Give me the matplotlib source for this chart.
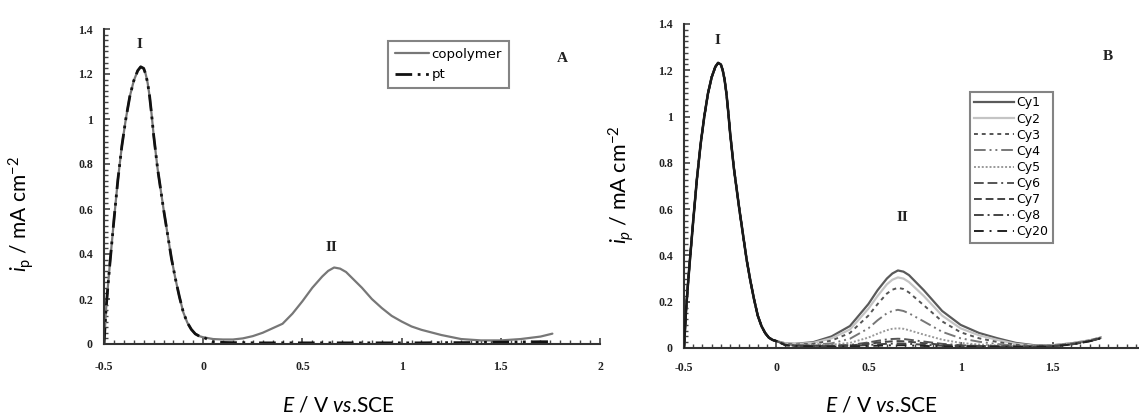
import matplotlib
matplotlib.use('Agg')
import matplotlib.pyplot as plt
from matplotlib.ticker import MultipleLocator, FuncFormatter

# ---------------- data ----------------
# peak I region, shared by all traces
E_peak = [-0.5, -0.49, -0.48, -0.47, -0.45, -0.43, -0.41, -0.39, -0.37, -0.35,
          -0.33, -0.315, -0.30, -0.29, -0.28, -0.27, -0.26, -0.25, -0.23, -0.21,
          -0.20, -0.18, -0.16, -0.14, -0.12, -0.10, -0.08, -0.06, -0.04, -0.02, 0.0]
I_peak = [0.0, 0.15, 0.26, 0.36, 0.55, 0.73, 0.88, 1.0, 1.10, 1.17,
          1.215, 1.232, 1.225, 1.20, 1.16, 1.10, 1.02, 0.93, 0.78, 0.66,
          0.60, 0.49, 0.38, 0.29, 0.21, 0.14, 0.095, 0.065, 0.045, 0.035, 0.03]

# panel A, beyond 0 V
E_A = [0.05, 0.1, 0.15, 0.2, 0.25, 0.3, 0.35, 0.4, 0.45, 0.5, 0.55, 0.6, 0.63,
       0.66, 0.69, 0.72, 0.76, 0.8, 0.85, 0.9, 0.95, 1.0, 1.05, 1.1, 1.2, 1.3,
       1.4, 1.5, 1.6, 1.7, 1.76]
copolymer = [0.022, 0.02, 0.02, 0.025, 0.035, 0.05, 0.07, 0.09, 0.135, 0.19,
             0.25, 0.30, 0.325, 0.34, 0.335, 0.32, 0.285, 0.25, 0.20, 0.16,
             0.125, 0.10, 0.078, 0.063, 0.04, 0.022, 0.016, 0.016, 0.022,
             0.033, 0.046]
pt = [0.01, 0.007, 0.006, 0.006, 0.005, 0.005, 0.005, 0.005, 0.005, 0.005,
      0.005, 0.005, 0.005, 0.005, 0.005, 0.005, 0.005, 0.005, 0.005, 0.005,
      0.005, 0.005, 0.005, 0.005, 0.006, 0.006, 0.007, 0.008, 0.009, 0.01, 0.01]

# panel B, beyond 0 V
E_B = [0.05, 0.1, 0.2, 0.3, 0.4, 0.5, 0.55, 0.6, 0.63, 0.66, 0.69, 0.72, 0.8,
       0.9, 1.0, 1.1, 1.2, 1.3, 1.4, 1.5, 1.6, 1.7, 1.76]
cy1 = [0.02, 0.018, 0.025, 0.05, 0.095, 0.19, 0.25, 0.30, 0.322, 0.335, 0.33,
       0.315, 0.25, 0.16, 0.10, 0.065, 0.042, 0.022, 0.012, 0.012, 0.02, 0.033, 0.045]
cy2 = [0.02, 0.017, 0.022, 0.042, 0.08, 0.17, 0.225, 0.275, 0.295, 0.305, 0.30,
       0.285, 0.225, 0.14, 0.085, 0.055, 0.035, 0.018, 0.01, 0.011, 0.02, 0.033, 0.045]
cy3 = [0.018, 0.015, 0.018, 0.032, 0.065, 0.14, 0.19, 0.235, 0.252, 0.26, 0.255,
       0.24, 0.185, 0.115, 0.068, 0.042, 0.026, 0.014, 0.009, 0.01, 0.019, 0.032, 0.045]
cy4 = [0.016, 0.013, 0.014, 0.02, 0.04, 0.085, 0.12, 0.15, 0.16, 0.165, 0.16,
       0.15, 0.115, 0.07, 0.042, 0.027, 0.017, 0.01, 0.008, 0.009, 0.018, 0.031, 0.044]
cy5 = [0.015, 0.012, 0.012, 0.014, 0.022, 0.045, 0.062, 0.077, 0.083, 0.085, 0.083,
       0.077, 0.058, 0.036, 0.022, 0.015, 0.011, 0.008, 0.007, 0.008, 0.017, 0.03, 0.043]
cy6 = [0.014, 0.011, 0.01, 0.01, 0.013, 0.024, 0.031, 0.037, 0.039, 0.04, 0.039,
       0.036, 0.028, 0.018, 0.012, 0.009, 0.008, 0.007, 0.006, 0.008, 0.016, 0.03, 0.043]
cy7 = [0.013, 0.01, 0.009, 0.009, 0.011, 0.018, 0.023, 0.027, 0.029, 0.03, 0.029,
       0.027, 0.021, 0.014, 0.01, 0.008, 0.007, 0.006, 0.006, 0.008, 0.016, 0.03, 0.043]
cy8 = [0.012, 0.009, 0.008, 0.008, 0.009, 0.013, 0.016, 0.018, 0.019, 0.02, 0.019,
       0.018, 0.014, 0.01, 0.008, 0.007, 0.006, 0.006, 0.005, 0.007, 0.015, 0.029, 0.042]
cy20 = [0.012, 0.009, 0.007, 0.006, 0.007, 0.009, 0.01, 0.011, 0.012, 0.012, 0.012,
        0.011, 0.009, 0.007, 0.006, 0.006, 0.005, 0.005, 0.005, 0.007, 0.015, 0.029, 0.042]
cycle_labels = ['Cy1', 'Cy2', 'Cy3', 'Cy4', 'Cy5', 'Cy6', 'Cy7', 'Cy8', 'Cy20']
cycle_values = [cy1, cy2, cy3, cy4, cy5, cy6, cy7, cy8, cy20]

x_ticks = [-0.5, 0, 0.5, 1, 1.5, 2]
y_ticks = [0, 0.2, 0.4, 0.6, 0.8, 1.0, 1.2, 1.4]

# ---------------- styling ----------------
plt.rcParams['mathtext.fontset'] = 'custom'
plt.rcParams['mathtext.rm'] = 'Lato'
plt.rcParams['mathtext.it'] = 'Lato:italic'
plt.rcParams['mathtext.bf'] = 'Lato:bold'

W, H = 1139, 418
fig = plt.figure(figsize=(W / 100, H / 100), dpi=100)
axA = fig.add_axes([104 / W, 1 - 344 / H, 496 / W, 315 / H])
axB = fig.add_axes([684 / W, 1 - 348 / H, 461 / W, 324 / H])

tickfont = dict(family='Liberation Serif', weight='bold', size=8.5)
fmt = FuncFormatter(lambda v, _: f'{v:g}')

for ax, xpad, ypad in [(axA, 12, 8), (axB, 10, 8)]:
    ax.set_xlim(-0.5, 2)
    ax.set_ylim(0, 1.4)
    for s in ['top', 'right']:
        ax.spines[s].set_visible(False)
    for s in ['left', 'bottom']:
        ax.spines[s].set_linewidth(1.5)
        ax.spines[s].set_color('#333333')
    ax.set_xticks(x_ticks)
    ax.set_yticks(y_ticks)
    ax.xaxis.set_major_formatter(fmt)
    ax.yaxis.set_major_formatter(fmt)
    ax.xaxis.set_minor_locator(MultipleLocator(0.05))
    ax.yaxis.set_minor_locator(MultipleLocator(0.025))
    ax.tick_params(which='major', direction='in', length=4, width=1.1, color='#333333')
    ax.tick_params(which='minor', direction='in', length=3, width=1.0, color='#444444')
    ax.tick_params(axis='x', which='major', pad=xpad)
    ax.tick_params(axis='y', which='major', pad=ypad)
    for lab in ax.get_xticklabels() + ax.get_yticklabels():
        lab.set_fontproperties(tickfont)
        lab.set_color('#222222')

# ---------------- panel A ----------------
axA.plot(E_peak + E_A, I_peak + copolymer, color='#777777', lw=1.6,
         label='copolymer', solid_capstyle='round')
axA.plot(E_peak + E_A, I_peak + pt, color='#111111', lw=2.0,
         linestyle=(0, (6, 2, 1, 2, 1, 2)), label='pt')
legA = axA.legend(loc='upper left', bbox_to_anchor=(0.5726, 0.962),
                  borderaxespad=0, frameon=True, fancybox=False,
                  prop=dict(family=['Liberation Sans Narrow', 'DejaVu Sans'], size=9.5),
                  handlelength=2.6, handletextpad=0.2, labelspacing=0.6,
                  borderpad=0.5)
legA.get_frame().set_edgecolor('#666666')
legA.get_frame().set_linewidth(1.5)

axA.text(-0.323, 1.33, 'I', family='Liberation Serif', weight='bold', size=11,
         ha='center', va='center', color='#222222')
axA.text(0.644, 0.427, 'II', family='Liberation Serif', weight='bold', size=11,
         ha='center', va='center', color='#222222')

# ---------------- panel B ----------------
styles = [
    dict(color='#5a5a5a', ls='-', lw=1.6),
    dict(color='#c4c4c4', ls='-', lw=1.6),
    dict(color='#555555', ls=(0, (2, 2)), lw=1.4),
    dict(color='#777777', ls=(0, (6, 2, 1, 2, 1, 2)), lw=1.4),
    dict(color='#999999', ls=(0, (1, 1)), lw=1.4),
    dict(color='#555555', ls=(0, (5, 2, 5, 2, 1, 2)), lw=1.4),
    dict(color='#444444', ls=(0, (4, 2)), lw=1.4),
    dict(color='#444444', ls=(0, (5, 2, 1, 2)), lw=1.4),
    dict(color='#222222', ls=(0, (5, 3, 1, 3)), lw=1.4),
]
for lab, vals, st in zip(cycle_labels, cycle_values, styles):
    axB.plot(E_peak + E_B, I_peak + vals, label=lab, **st)
# dark overlay of the common first peak (all cycles coincide there)
axB.plot(E_peak, I_peak, color='#1a1a1a', lw=1.8, zorder=3)

legB = axB.legend(loc='upper left', bbox_to_anchor=(0.620, 0.79),
                  borderaxespad=0, frameon=True, fancybox=False,
                  prop=dict(family=['Liberation Sans Narrow', 'DejaVu Sans'], size=9),
                  handlelength=3.2, handletextpad=0.2, labelspacing=0.25,
                  borderpad=0.35)
legB.get_frame().set_edgecolor('#666666')
legB.get_frame().set_linewidth(1.5)

axB.text(-0.318, 1.33, 'I', family='Liberation Serif', weight='bold', size=11,
         ha='center', va='center', color='#222222')
axB.text(0.687, 0.565, 'II', family='Liberation Serif', weight='bold', size=11,
         ha='center', va='center', color='#222222')

# ---------------- labels ----------------
fig.text(21 / W, 1 - 214 / H, r'$\mathit{i}_{\mathrm{p}}$ / mA cm$^{-2}$',
         family='Lato', size=15, rotation=90, ha='center', va='center')
fig.text(621 / W, 1 - 185 / H, r'$\mathit{i}_{\mathit{p}}$ / mA cm$^{-2}$',
         family='Lato', size=15.5, rotation=90, ha='center', va='center')
fig.text(338 / W, 1 - 405 / H, r'$\mathit{E}$ / V $\mathit{vs}$.SCE',
         family='Lato', size=15, ha='center', va='center')
fig.text(881 / W, 1 - 405 / H, r'$\mathit{E}$ / V $\mathit{vs}$.SCE',
         family='Lato', size=15, ha='center', va='center')

fig.text(562 / W, 1 - 58 / H, 'A', family='Liberation Serif', weight='bold',
         size=11, ha='center', va='center', color='#222222')
fig.text(1108 / W, 1 - 57 / H, 'B', family='Liberation Serif', weight='bold',
         size=11, ha='center', va='center', color='#222222')

fig.savefig('out.png', dpi=100)
